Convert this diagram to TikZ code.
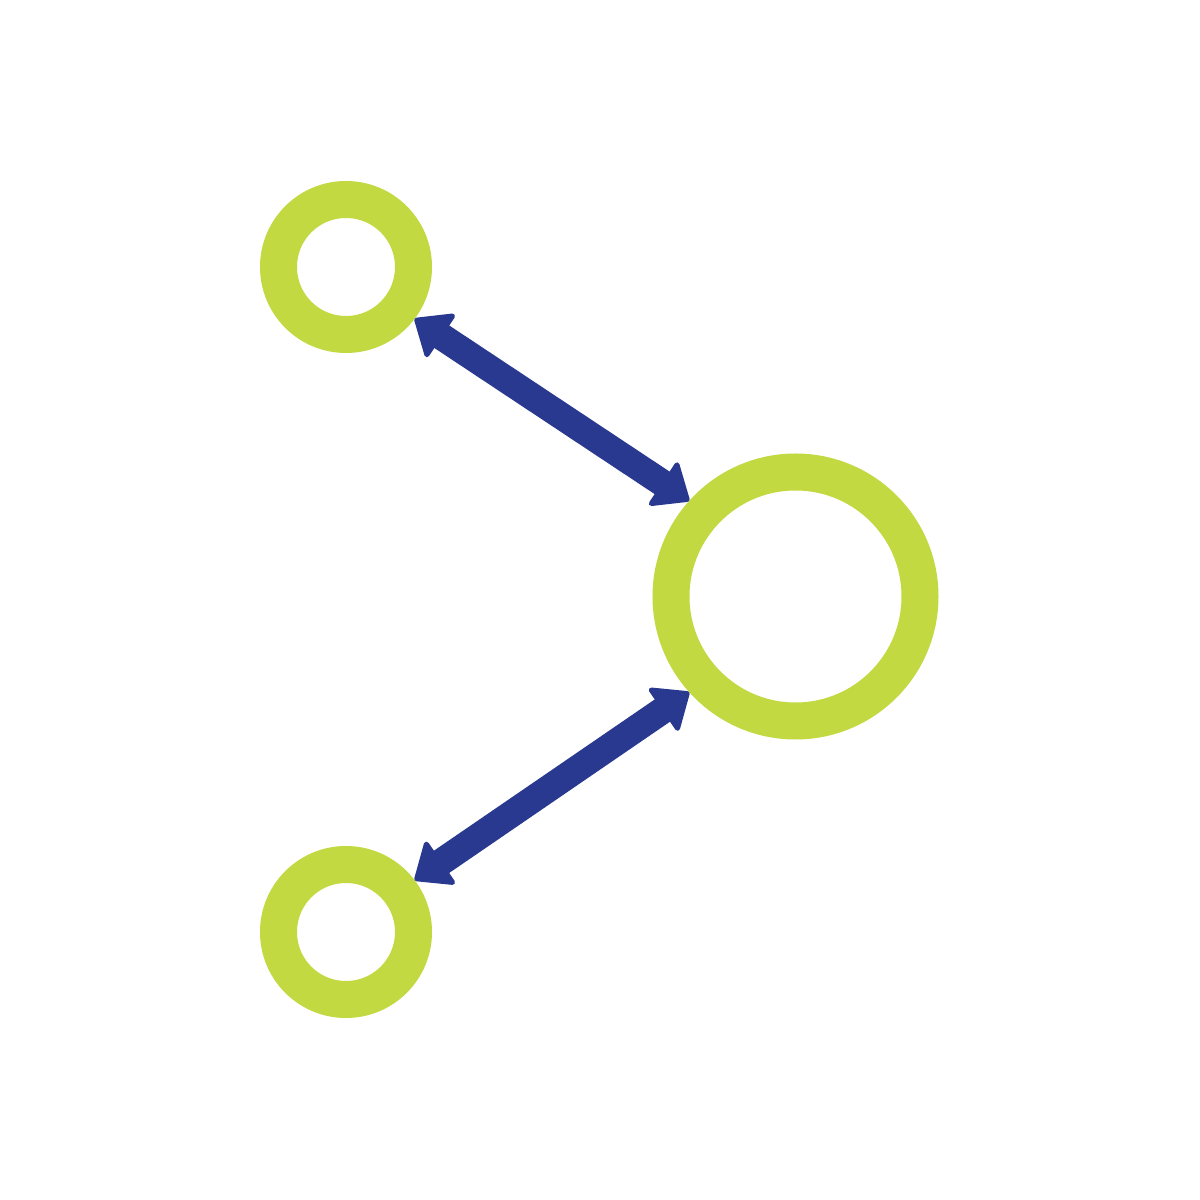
\documentclass[tikz,border=0pt]{standalone}
\usetikzlibrary{arrows.meta}
\definecolor{ringgreen}{RGB}{195,217,65}
\definecolor{arrowblue}{RGB}{40,57,143}
\begin{document}
\begin{tikzpicture}
\tikzset{
  ring/.style={circle, draw=ringgreen, line width=0.37cm, inner sep=0pt},
  link/.style={arrowblue, line width=0.27cm,
    {Triangle[round, line width=0.05cm, length=0.34cm, width=0.56cm]}-{Triangle[round, line width=0.05cm, length=0.34cm, width=0.56cm]}}
}
\fill[white] (0,0) rectangle (12,12);
\useasboundingbox (0,0) rectangle (12,12);
\node[ring, minimum size=1.35cm] (top) at (3.46,9.33) {};
\node[ring, minimum size=1.35cm] (bot) at (3.46,2.68) {};
\node[ring, minimum size=2.49cm] (big) at (7.955,6.035) {};
\draw[link] (top.-37) -- (big.138);
\draw[link] (bot.37) -- (big.-138);
\end{tikzpicture}
\end{document}
